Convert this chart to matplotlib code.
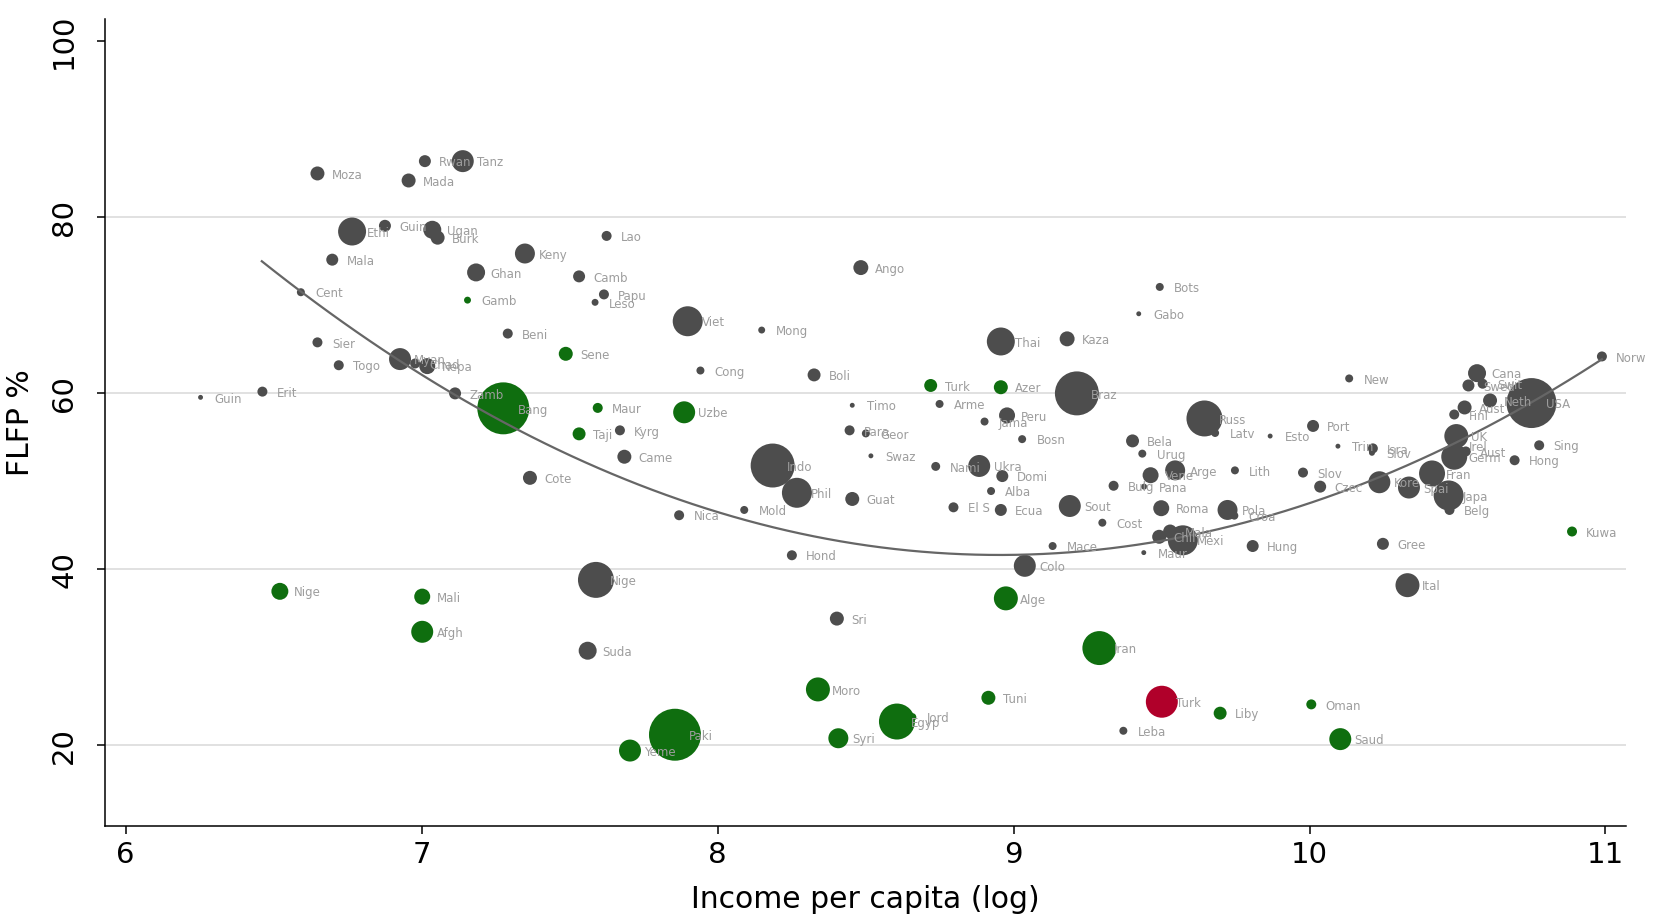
# Import Modules
import numpy as np
import matplotlib
matplotlib.use("Agg")
import matplotlib.pyplot as plt

# Country labels (first four letters, as in the original)
names = ["Moza", "Rwan", "Tanz", "Mada", "Ethi", "Guin", "Ugan", "Burk", "Mala", "Keny",
         "Ghan", "Cent", "Gamb", "Beni", "Sier", "Togo", "Myan", "Chad", "Nepa", "Lao",
         "Camb", "Papu", "Leso", "Viet", "Mong", "Ango", "Sene", "Cong", "Boli", "Turk",
         "Bots", "Gabo", "Thai", "Kaza", "Azer", "Braz", "Norw", "New", "Cana", "Swed",
         "Swit", "Aust", "Neth", "Finl", "USA", "UK", "Irel", "Germ", "Aust", "Sing",
         "Hong", "Isra", "Slov", "Trin", "Fran", "Slov", "Czec", "Kore", "Spai", "Japa",
         "Belg", "Port", "Kuwa", "Gree", "Ital", "Guin", "Erit", "Zamb", "Bang", "Cote",
         "Nige", "Mali", "Afgh", "Maur", "Uzbe", "Taji", "Kyrg", "Came", "Indo", "Phil",
         "Nica", "Mold", "Guat", "Hond", "Nige", "Timo", "Para", "Geor", "Swaz", "Arme",
         "Nami", "El S", "Jama", "Peru", "Bosn", "Ukra", "Domi", "Alba", "Ecua", "Sout",
         "Cost", "Mace", "Colo", "Alge", "Bela", "Urug", "Vene", "Arge", "Bulg", "Pana",
         "Roma", "Chil", "Mala", "Mexi", "Maur", "Russ", "Latv", "Esto", "Lith", "Pola",
         "Croa", "Hung", "Sri", "Suda", "Moro", "Egyp", "Jord", "Syri", "Paki", "Yeme",
         "Iran", "Tuni", "Turk", "Liby", "Leba", "Oman", "Saud"]

# log income per capita
income = [6.648, 7.011, 7.139, 6.956, 6.765, 6.876, 7.036, 7.054, 6.698, 7.349,
          7.184, 6.592, 7.155, 7.291, 6.648, 6.720, 6.927, 6.978, 7.019, 7.625,
          7.532, 7.616, 7.586, 7.899, 8.149, 8.484, 7.487, 7.942, 8.326, 8.720,
          9.494, 9.423, 8.957, 9.181, 8.957, 9.214, 10.988, 10.134, 10.566, 10.537,
          10.585, 10.524, 10.610, 10.489, 10.750, 10.496, 10.489, 10.489, 10.528, 10.776,
          10.693, 10.214, 10.211, 10.096, 10.414, 9.978, 10.036, 10.236, 10.336, 10.470,
          10.473, 10.012, 10.887, 10.248, 10.331, 6.253, 6.462, 7.113, 7.276, 7.366,
          6.521, 7.002, 7.002, 7.595, 7.887, 7.532, 7.670, 7.685, 8.186, 8.268,
          7.870, 8.090, 8.455, 8.251, 7.589, 8.455, 8.446, 8.501, 8.518, 8.750,
          8.737, 8.797, 8.902, 8.978, 9.029, 8.884, 8.962, 8.924, 8.957, 9.190,
          9.300, 9.132, 9.038, 8.974, 9.402, 9.435, 9.463, 9.546, 9.338, 9.441,
          9.499, 9.492, 9.529, 9.572, 9.440, 9.645, 9.681, 9.867, 9.748, 9.723,
          9.746, 9.808, 8.403, 7.561, 8.339, 8.606, 8.658, 8.408, 7.856, 7.704,
          9.290, 8.915, 9.501, 9.698, 9.371, 10.006, 10.104]

# female labour force participation (%)
flfp = [85.0, 86.4, 86.4, 84.2, 78.4, 79.05, 78.6, 77.7, 75.2, 75.9,
        73.75, 71.5, 70.6, 66.8, 65.8, 63.2, 63.9, 63.4, 63.1, 77.9,
        73.3, 71.25, 70.35, 68.2, 67.2, 74.3, 64.5, 62.6, 62.1, 60.9,
        72.1, 69.05, 65.9, 66.2, 60.7, 60.0, 64.2, 61.7, 62.3, 60.9,
        61.1, 58.4, 59.2, 57.6, 58.9, 55.15, 54.0, 52.8, 53.4, 54.1,
        52.4, 53.75, 53.25, 54.0, 50.9, 51.0, 49.4, 49.9, 49.3, 48.4,
        46.75, 56.3, 44.3, 42.9, 38.2, 59.55, 60.2, 60.0, 58.3, 50.4,
        37.5, 36.9, 32.9, 58.35, 57.85, 55.4, 55.8, 52.8, 51.8, 48.7,
        46.15, 46.75, 48.0, 41.6, 38.8, 58.65, 55.8, 55.45, 52.9, 58.8,
        51.7, 47.05, 56.8, 57.5, 54.8, 51.75, 50.6, 48.9, 46.75, 47.2,
        45.3, 42.65, 40.4, 36.7, 54.6, 53.15, 50.7, 51.25, 49.5, 49.4,
        46.95, 43.7, 44.3, 43.3, 41.9, 57.15, 55.5, 55.15, 51.25, 46.75,
        46.1, 42.65, 34.4, 30.75, 26.35, 22.7, 23.2, 20.8, 21.2, 19.4,
        31.05, 25.4, 24.95, 23.65, 21.65, 24.65, 20.7]

# bubble weight (population-type weight, area proportional)
weight = [49, 36, 121, 49, 196, 36, 81, 49, 36, 100,
          81, 16, 12, 25, 25, 25, 121, 25, 64, 25,
          36, 25, 12, 225, 12, 56, 49, 16, 42, 42,
          16, 6, 196, 56, 49, 484, 25, 16, 81, 36,
          25, 49, 49, 25, 625, 144, 16, 169, 25, 25,
          25, 25, 9, 6, 169, 25, 36, 121, 121, 225,
          25, 36, 25, 36, 144, 6, 25, 36, 676, 49,
          72, 64, 121, 25, 121, 42, 25, 49, 484, 225,
          25, 16, 49, 25, 324, 6, 25, 16, 6, 16,
          20, 25, 16, 64, 16, 121, 36, 16, 36, 121,
          16, 16, 121, 144, 42, 16, 64, 100, 25, 9,
          64, 49, 49, 225, 6, 324, 16, 6, 16, 100,
          16, 36, 49, 81, 144, 324, 16, 100, 676, 121,
          289, 49, 256, 42, 16, 25, 121]

# group: o = other, m = highlighted group (green), t = Turkey (red)
group = ["o", "o", "o", "o", "o", "o", "o", "o", "o", "o",
         "o", "o", "m", "o", "o", "o", "o", "o", "o", "o",
         "o", "o", "o", "o", "o", "o", "m", "o", "o", "m",
         "o", "o", "o", "o", "m", "o", "o", "o", "o", "o",
         "o", "o", "o", "o", "o", "o", "o", "o", "o", "o",
         "o", "o", "o", "o", "o", "o", "o", "o", "o", "o",
         "o", "o", "m", "o", "o", "o", "o", "o", "m", "o",
         "m", "m", "m", "m", "m", "m", "o", "o", "o", "o",
         "o", "o", "o", "o", "o", "o", "o", "o", "o", "o",
         "o", "o", "o", "o", "o", "o", "o", "o", "o", "o",
         "o", "o", "o", "m", "o", "o", "o", "o", "o", "o",
         "o", "o", "o", "o", "o", "o", "o", "o", "o", "o",
         "o", "o", "o", "o", "m", "m", "m", "m", "m", "m",
         "m", "m", "t", "m", "o", "m", "m"]

# points
fit_x = [6.46, 6.59, 6.93, 7.113, 7.31, 7.468, 7.535, 8.144, 8.752, 9.033, 9.428, 9.969, 10.104, 10.892, 10.988]
fit_y = [74.95, 71.5, 63.9, 60.0, 55.8, 53.6, 52.4, 45.2, 41.8, 41.6, 42.95, 47.1, 48.8, 61.5, 64.2]

colors = {"o": "#4d4d4d", "m": "#0f6e0f", "t": "#b0002a"}

# ------------------------------------------------------
plt.rcParams["font.family"] = "DejaVu Sans"
fig = plt.figure(figsize=(16.56, 9.16), dpi=100)
ax = fig.add_axes([0.0632, 0.0983, 0.9188, 0.8807])

x = np.array(income)
y = np.array(flfp)
w = np.array(weight, dtype=float)
c = [colors[g] for g in group]

# draw small bubbles first, big ones on top
order = np.argsort(w, kind="stable")
ax.scatter(x[order], y[order], s=w[order] * 2.07, c=[c[i] for i in order],
           linewidths=0, zorder=3)

# quadratic fit line
coef = np.polyfit(fit_x, fit_y, 2)
xx = np.linspace(min(fit_x), max(fit_x), 200)
ax.plot(xx, np.polyval(coef, xx), color="#666666", lw=1.6, zorder=4)

# labels
for i in range(len(names)):
    ax.annotate(names[i], (x[i], y[i]), xytext=(10.3, -1.2), textcoords="offset points",
                va="center", ha="left", fontsize=8.5, color="#9d9d9d", zorder=5)

ax.set_xlim(5.929, 11.07)
ax.set_ylim(10.83, 102.53)
ax.set_xticks([6, 7, 8, 9, 10, 11])
ax.set_yticks([20, 40, 60, 80, 100])
ax.tick_params(axis="both", labelsize=21, length=6, width=1.1)
ax.tick_params(axis="x", pad=5)
ax.tick_params(axis="y", pad=13)
for lab in ax.get_yticklabels():
    lab.set_rotation(90)
    lab.set_va("center")

for v in [20, 40, 60, 80]:
    ax.axhline(v, color="#dedede", lw=1.3, zorder=1)

ax.spines["top"].set_visible(False)
ax.spines["right"].set_visible(False)
ax.spines["left"].set_linewidth(1.1)
ax.spines["bottom"].set_linewidth(1.1)

ax.set_xlabel("Income per capita (log)", fontsize=21.5, labelpad=11)
ax.set_ylabel("FLFP %", fontsize=21.5, labelpad=11)

plt.savefig("out.png", dpi=100)
